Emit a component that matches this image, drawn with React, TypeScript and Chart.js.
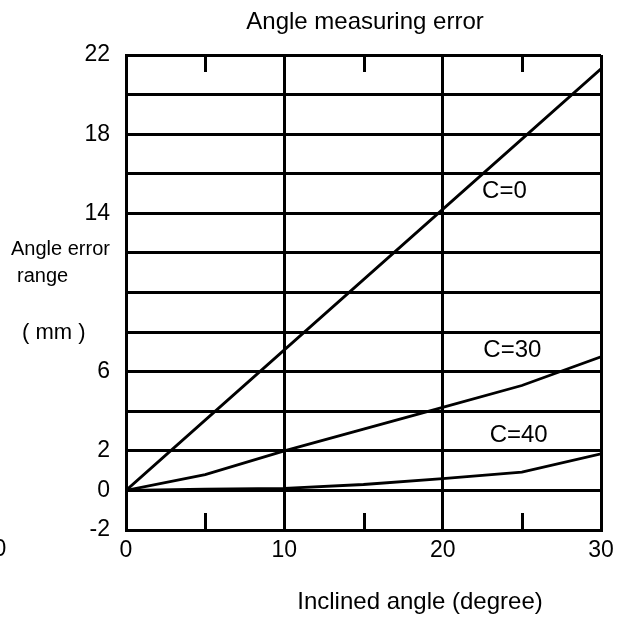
import React, { useEffect, useRef } from "react";
import { Chart, registerables } from "chart.js";

Chart.register(...registerables);

const angles = [0, 5, 10, 15, 20, 25, 30];
const c0Values = [0, 3.55, 7.1, 10.65, 14.2, 17.75, 21.3];
const c30Values = [0, 0.8, 2.0, 3.1, 4.2, 5.3, 6.75];
const c40Values = [0, 0.07, 0.1, 0.3, 0.6, 0.92, 1.85];
const yTickLabels = [22, 18, 14, 6, 2, 0, -2];
const minorXTicks = [5, 15, 25];
const seriesLabels = [
  { text: "C=0", x: 23.9, y: 15.1 },
  { text: "C=30", x: 24.4, y: 7.1 },
  { text: "C=40", x: 24.8, y: 2.8 },
];

const FONT = '"Liberation Sans", Arial, sans-serif';

const decorPlugin = {
  id: "decor",
  afterDraw(chart: any) {
    const { ctx, chartArea, scales } = chart;
    const xs = scales.x;
    const ys = scales.y;
    ctx.save();
    ctx.strokeStyle = "#000";
    ctx.lineWidth = 3;
    minorXTicks.forEach((v) => {
      const x = Math.round(xs.getPixelForValue(v)) + 0.5;
      ctx.beginPath();
      ctx.moveTo(x, chartArea.top);
      ctx.lineTo(x, chartArea.top + 17);
      ctx.moveTo(x, chartArea.bottom);
      ctx.lineTo(x, chartArea.bottom - 17);
      ctx.stroke();
    });
    ctx.fillStyle = "#000";
    ctx.textBaseline = "middle";
    ctx.font = `24px ${FONT}`;
    ctx.textAlign = "center";
    seriesLabels.forEach((l) => {
      ctx.fillText(l.text, xs.getPixelForValue(l.x), ys.getPixelForValue(l.y));
    });
    ctx.font = `24px ${FONT}`;
    ctx.fillText("Angle measuring error", 365, 22);
    ctx.fillText("Inclined angle (degree)", 420, 602);
    ctx.textAlign = "left";
    ctx.font = `20px ${FONT}`;
    ctx.fillText("Angle error", 11, 249);
    ctx.fillText("range", 17, 276);
    ctx.font = `22px ${FONT}`;
    ctx.fillText("( mm )", 22, 333);
    ctx.textAlign = "center";
    ctx.font = `23px ${FONT}`;
    ctx.fillText("0", 0, 550);
    ctx.restore();
  },
};

export default function App() {
  const canvasRef = useRef<HTMLCanvasElement | null>(null);

  useEffect(() => {
    if (!canvasRef.current) return;
    const mk = (label: string, data: number[]) => ({
      label,
      data: angles.map((a, i) => ({ x: a, y: data[i] })),
      borderColor: "#000",
      borderWidth: 2.8,
      pointRadius: 0,
      tension: 0,
      fill: false,
    });
    const chart = new Chart(canvasRef.current, {
      type: "line",
      data: {
        datasets: [mk("C=0", c0Values), mk("C=30", c30Values), mk("C=40", c40Values)],
      },
      options: {
        animation: false,
        responsive: true,
        maintainAspectRatio: false,
        layout: { padding: { top: 55, right: 21, left: 0, bottom: 0 } },
        plugins: {
          legend: { display: false },
          title: { display: false },
          tooltip: { enabled: false },
        },
        scales: {
          x: {
            type: "linear",
            min: 0,
            max: 30,
            ticks: {
              stepSize: 10,
              color: "#000",
              font: { family: FONT, size: 23 },
              padding: 7,
              maxRotation: 0,
            },
            grid: { color: "#000", lineWidth: 3, drawTicks: false },
            border: { display: true, color: "#000", width: 3 },
            afterFit: (scale: any) => {
              scale.height = 89;
            },
          },
          y: {
            type: "linear",
            min: -2,
            max: 22,
            ticks: {
              stepSize: 2,
              color: "#000",
              font: { family: FONT, size: 23 },
              padding: 16,
              callback: (v: any) => (yTickLabels.includes(Number(v)) ? String(v) : ""),
            },
            grid: { color: "#000", lineWidth: 3, drawTicks: false },
            border: { display: true, color: "#000", width: 3 },
            afterFit: (scale: any) => {
              scale.width = 126;
            },
          },
        },
      },
      plugins: [decorPlugin],
    });
    return () => chart.destroy();
  }, []);

  return (
    <div style={{ position: "fixed", left: 0, top: 0, width: 622, height: 619, background: "#fff" }}>
      <canvas ref={canvasRef} />
    </div>
  );
}
